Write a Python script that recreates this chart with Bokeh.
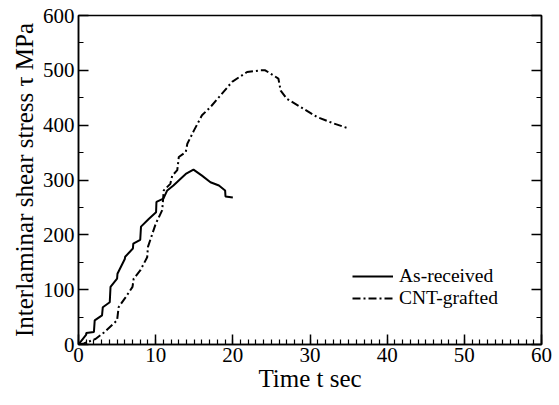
from bokeh.plotting import figure
from bokeh.models import (Range1d, LinearAxis, SingleIntervalTicker, Legend,
                          LegendItem)
from bokeh.embed import file_html
from bokeh.resources import INLINE

# ---- data ----
as_received_t = [0, 1.0, 1.0, 2.0, 2.1, 3.05, 3.15, 4.05, 4.15, 5.0, 5.05, 6.0,
                 6.05, 7.05, 7.1, 8.0, 8.1, 9.1, 10.05, 10.1, 11.0, 11.5, 12.3,
                 13.2, 13.9, 14.9, 16.0, 17.1, 18.2, 19.0, 19.05, 20.0]
as_received_tau = [0, 18, 21, 23, 44, 53, 68, 77, 105, 120, 129, 156, 160, 175,
                   184, 191, 215, 229, 241, 260, 266, 281, 290, 302, 311, 319,
                   308, 296, 290, 281, 270, 268]

cnt_t = [0, 0.7, 2.2, 3.3, 5.0, 5.2, 6.1, 7.0, 7.15, 8.0, 8.9, 9.0, 10.0, 10.85,
         11.05, 11.9, 12.15, 12.8, 13.0, 13.9, 14.1, 14.95, 16.0, 17.1, 18.2,
         19.9, 21.85, 23.6, 24.2, 25.9, 26.2, 27.0, 28.8, 30.9, 33.1, 35.0]
cnt_tau = [0, 2, 10, 22, 44, 68, 86, 105, 120, 135, 159, 178, 220, 245, 281,
           293, 308, 318, 342, 351, 366, 390, 418, 433, 451, 479, 497, 500, 500,
           485, 463, 448, 433, 415, 403, 394]

series_labels = ["As-received", "CNT-grafted"]
x_label = "Time t sec"
y_label = "Interlaminar shear stress τ MPa"

FONT = "'Liberation Serif'"

p = figure(width=559, height=405, output_backend="svg", toolbar_location=None,
           x_range=Range1d(0, 60), y_range=Range1d(0, 600),
           min_border_left=78, min_border_right=18, min_border_top=15,
           min_border_bottom=61)
p.background_fill_color = "white"
p.border_fill_color = "white"
p.xgrid.visible = False
p.ygrid.visible = False
p.outline_line_color = "black"
p.outline_line_width = 1.5
p.outline_line_alpha = 1.0

def style_axis(ax, minor_in=5):
    ax.axis_line_color = "black"
    ax.axis_line_width = 1.5
    ax.major_tick_line_color = "black"
    ax.major_tick_line_width = 1.5
    ax.minor_tick_line_color = "black"
    ax.minor_tick_line_width = 1.2
    ax.major_tick_in = 10
    ax.major_tick_out = 0
    ax.minor_tick_in = minor_in
    ax.minor_tick_out = 0
    ax.major_label_text_font = FONT
    ax.major_label_text_font_size = "21px"
    ax.major_label_text_color = "black"
    ax.axis_label_text_font = FONT
    ax.axis_label_text_font_size = "25px"
    ax.axis_label_text_font_style = "normal"
    ax.axis_label_text_color = "black"

p.xaxis.ticker = SingleIntervalTicker(interval=10, num_minor_ticks=10)
p.yaxis.ticker = SingleIntervalTicker(interval=100, num_minor_ticks=2)
style_axis(p.xaxis[0])
style_axis(p.yaxis[0])
p.xaxis.major_label_standoff = 3
p.yaxis.major_label_standoff = 4
p.xaxis.axis_label = x_label
p.yaxis.axis_label = y_label
p.xaxis.axis_label_standoff = 0
p.yaxis.axis_label_standoff = 2

right = LinearAxis(ticker=SingleIntervalTicker(interval=100, num_minor_ticks=2))
style_axis(right)
right.major_label_text_font_size = "0px"
right.major_label_text_alpha = 0
right.major_label_standoff = 0
p.add_layout(right, "right")

r1 = p.line(as_received_t, as_received_tau, line_color="black", line_width=2)
r2 = p.line(cnt_t, cnt_tau, line_color="black", line_width=2,
            line_dash="8 3 2 3")

def make_legend(label, renderer, loc):
    lg = Legend(items=[LegendItem(label=label, renderers=[renderer])],
                location=loc)
    lg.background_fill_alpha = 0
    lg.border_line_alpha = 0
    lg.padding = 0
    lg.margin = 0
    lg.spacing = 0
    lg.glyph_width = 41
    lg.label_standoff = 6
    lg.label_text_font = FONT
    lg.label_text_font_size = "19.5px"
    lg.label_text_color = "black"
    return lg

p.add_layout(make_legend(series_labels[0], r1, (274, 57)), "center")
p.add_layout(make_legend(series_labels[1], r2, (274, 35)), "center")

open("out.html", "w").write(file_html(p, INLINE))
